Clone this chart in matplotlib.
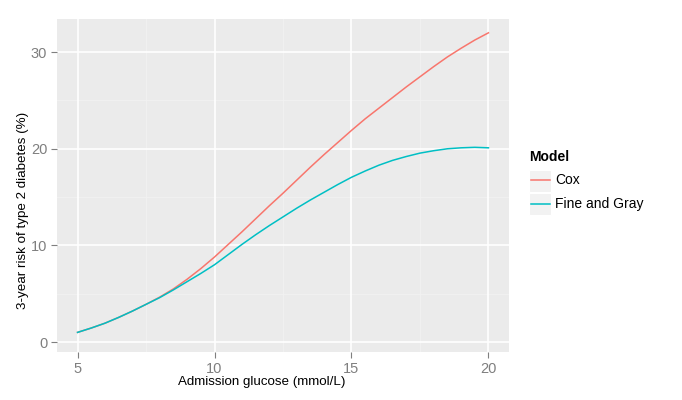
import matplotlib
matplotlib.use("Agg")
import matplotlib.pyplot as plt
from matplotlib.patches import Rectangle
from matplotlib.lines import Line2D

glucose = [5.0, 5.5, 6.0, 6.5, 7.0, 7.5, 8.0, 8.5, 9.0, 9.5, 10.0, 10.5, 11.0, 11.5,
           12.0, 12.5, 13.0, 13.5, 14.0, 14.5, 15.0, 15.5, 16.0, 16.5, 17.0, 17.5,
           18.0, 18.5, 19.0, 19.5, 20.0]
cox = [1.0, 1.45, 1.95, 2.55, 3.2, 3.9, 4.65, 5.5, 6.5, 7.6, 8.8, 10.1, 11.4, 12.75,
       14.1, 15.4, 16.75, 18.1, 19.4, 20.65, 21.9, 23.1, 24.2, 25.3, 26.4, 27.45,
       28.5, 29.5, 30.4, 31.25, 32.0]
fine_gray = [1.0, 1.45, 1.95, 2.55, 3.2, 3.9, 4.6, 5.4, 6.25, 7.1, 8.0, 9.05, 10.1, 11.1,
             12.05, 12.95, 13.85, 14.7, 15.5, 16.3, 17.05, 17.7, 18.3, 18.8, 19.2, 19.55,
             19.8, 20.0, 20.1, 20.15, 20.1]
series_names = ["Cox", "Fine and Gray"]
colors = ["#F8766D", "#00BFC4"]
x_ticks = [5, 10, 15, 20]
y_ticks = [0, 10, 20, 30]

plt.rcParams['font.family'] = ['Liberation Sans', 'DejaVu Sans']

W, H = 682, 400
fig = plt.figure(figsize=(W / 100, H / 100), dpi=100)
L, R, T, B = 57, 509, 19, 352
ax = fig.add_axes([L / W, 1 - B / H, (R - L) / W, (B - T) / H])
ax.set_facecolor("#EBEBEB")
for s in ax.spines.values():
    s.set_visible(False)

ax.set_xlim(4.25, 20.75)
ax.set_ylim(-1.03, 33.43)

for xm in [7.5, 12.5, 17.5]:
    ax.axvline(xm, color="#F2F2F2", lw=0.6, zorder=0.5)
for ym in [5, 15, 25]:
    ax.axhline(ym, color="#F2F2F2", lw=0.6, zorder=0.5)
for xv in x_ticks:
    ax.axvline(xv, color="white", lw=1.2, zorder=0.6)
for yv in y_ticks:
    ax.axhline(yv, color="white", lw=1.2, zorder=0.6)

ax.plot(glucose, cox, color=colors[0], lw=1.1, zorder=2)
ax.plot(glucose, fine_gray, color=colors[1], lw=1.1, zorder=2)

ax.set_xticks(x_ticks)
ax.set_yticks(y_ticks)
ax.set_xticklabels([str(v) for v in x_ticks])
ax.set_yticklabels([str(v) for v in y_ticks])
ax.tick_params(axis='both', colors="#7F7F7F", labelcolor="#7F7F7F", labelsize=10.5,
               length=4, width=0.8, pad=3)


def fx(px):
    return px / W


def fy(py):
    return 1 - py / H


# Axis titles (placed as in the reference)
fig.text(fx(262), fy(381.5), "Admission glucose (mmol/L)", fontsize=9.6,
         color="black", ha="center", va="center")
fig.text(fx(23), fy(210.5), "3-year risk of type 2 diabetes (%)", fontsize=9.6,
         color="black", ha="center", va="center", rotation=90)

# Legend (manual, ggplot style)
fig.text(fx(529), fy(157), "Model", fontsize=10, fontweight="bold", va="center", ha="left")
rows = [(169.5, 191.5), (192.7, 214.7)]
for (top, bot), name, col in zip(rows, series_names, colors):
    fig.patches.append(Rectangle((fx(529.3), fy(bot)), fx(551) - fx(529.3), fy(top) - fy(bot),
                                 transform=fig.transFigure, facecolor="#F2F2F2",
                                 edgecolor="white", lw=0.8))
    yc = (top + bot) / 2
    fig.lines.append(Line2D([fx(531), fx(549.5)], [fy(yc), fy(yc)],
                            transform=fig.transFigure, color=col, lw=1.1))
    fig.text(fx(555), fy(yc), name, fontsize=10, va="center", ha="left")

fig.savefig("out.png", dpi=100)
